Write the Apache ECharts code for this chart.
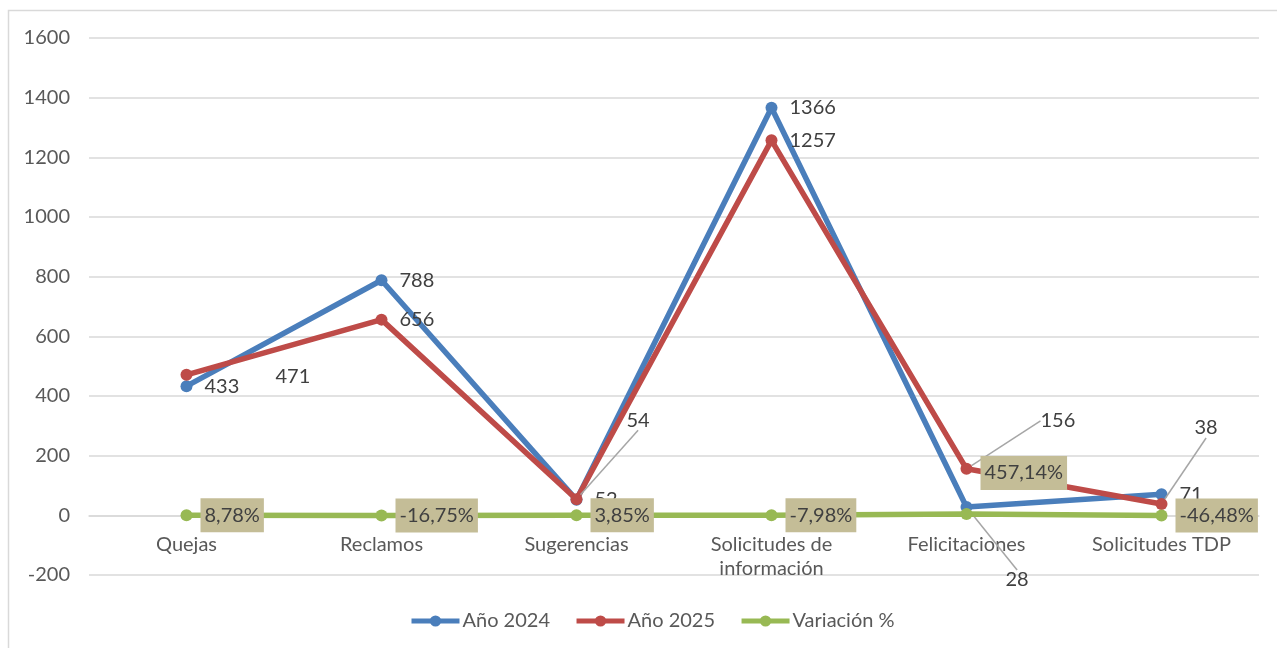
<!DOCTYPE html>
<html>
<head>
<meta charset="utf-8">
<script src="https://cdn.jsdelivr.net/npm/echarts@6/dist/echarts.min.js"></script>
<style>
  html, body { margin: 0; padding: 0; background: #fff; }
  #chart { width: 1277px; height: 648px; }
</style>
</head>
<body>
<div id="chart"></div>
<script>
// Categories and series
const categories = ['Quejas', 'Reclamos', 'Sugerencias', 'Solicitudes de\ninformación', 'Felicitaciones', 'Solicitudes TDP'];
const year2024 = [433, 788, 52, 1366, 28, 71];
const year2025 = [471, 656, 54, 1257, 156, 38];
// Variation stored as a fraction, shown as a percentage
const variation = [0.0878, -0.1675, 0.0385, -0.0798, 4.5714, -0.4648];
const seriesNames = ['Año 2024', 'Año 2025', 'Variación %'];

const FONT = 'Lato, "Open Sans", sans-serif';
const TXT = '#404040';
const FS = 20;

// Value axis range
const Y_MIN = -200, Y_MAX = 1600, Y_STEP = 200;

// Per-point label shifts (dx, dy) for labels pulled away from their point
const shift2024 = { 4: [21, 73] };
const shift2025 = { 0: [71, 2], 2: [32, -79], 4: [56, -48], 5: [15, -76] };
const leader2024 = [4];
const leader2025 = [2, 4, 5];

function pctText(v) {
  return (v * 100).toFixed(2).replace('.', ',') + '%';
}

const chart = echarts.init(document.getElementById('chart'), null, { renderer: 'canvas' });

const GRID = { left: 89, right: 18, top: 38, bottom: 73 };
const plotH = 648 - GRID.top - GRID.bottom;
// Category axis sits on the zero line of the value axis
const zeroOffset = -(0 - Y_MIN) / (Y_MAX - Y_MIN) * plotH;

function valueLabel() {
  return {
    show: true,
    position: 'right',
    distance: 12,
    color: TXT,
    fontFamily: FONT,
    fontSize: FS
  };
}

function layoutFor(shifts) {
  return function (params) {
    const s = shifts[params.dataIndex];
    if (!s) return {};
    return { dx: s[0], dy: s[1] };
  };
}

function withLeaders(values, leaders) {
  return values.map((v, i) => ({ value: v, labelLine: { show: leaders.indexOf(i) >= 0 } }));
}

const option = {
  animation: false,
  backgroundColor: '#fff',
  textStyle: { fontFamily: FONT },
  graphic: [
    {
      type: 'polyline',
      shape: { points: [[8.5, 660], [8.5, 10.5], [1290, 10.5]] },
      style: { stroke: '#d9d9d9', lineWidth: 1.5, fill: null },
      silent: true
    }
  ],
  grid: GRID,
  legend: {
    data: seriesNames,
    bottom: 12,
    left: 404,
    itemWidth: 48,
    itemHeight: 14,
    itemGap: 24,
    lineStyle: { width: 5 },
    textStyle: { color: '#595959', fontFamily: FONT, fontSize: FS, padding: [0, 0, 0, -2] }
  },
  xAxis: {
    type: 'category',
    data: categories,
    boundaryGap: true,
    offset: zeroOffset,
    axisLine: { show: true, onZero: false, lineStyle: { color: '#d9d9d9', width: 1.5 } },
    axisTick: { show: false },
    axisLabel: {
      color: '#595959',
      fontFamily: FONT,
      fontSize: FS,
      lineHeight: 24,
      margin: 17,
      interval: 0
    },
    splitLine: { show: false }
  },
  yAxis: {
    type: 'value',
    min: Y_MIN,
    max: Y_MAX,
    interval: Y_STEP,
    axisLine: { show: false },
    axisTick: { show: false },
    axisLabel: { color: '#595959', fontFamily: FONT, fontSize: FS, margin: 19, formatter: v => String(v) },
    splitLine: { lineStyle: { color: '#d9d9d9', width: 1.5 } }
  },
  series: [
    {
      name: seriesNames[0],
      type: 'line',
      data: withLeaders(year2024, leader2024),
      symbol: 'circle',
      symbolSize: 12,
      color: '#4a7ebb',
      lineStyle: { width: 5.5, color: '#4a7ebb' },
      itemStyle: { color: '#4a7ebb' },
      label: valueLabel(),
      labelLine: { show: true, lineStyle: { color: '#a6a6a6', width: 1.5 }, length2: 0 },
      labelLayout: layoutFor(shift2024),
      z: 2
    },
    {
      name: seriesNames[1],
      type: 'line',
      data: withLeaders(year2025, leader2025),
      symbol: 'circle',
      symbolSize: 12,
      color: '#be4b48',
      lineStyle: { width: 5.5, color: '#be4b48' },
      itemStyle: { color: '#be4b48' },
      label: valueLabel(),
      labelLine: { show: true, lineStyle: { color: '#a6a6a6', width: 1.5 }, length2: 0 },
      labelLayout: layoutFor(shift2025),
      z: 3
    },
    {
      name: seriesNames[2],
      type: 'line',
      data: variation.map((v, i) => {
        const d = { value: v };
        if (i === 4) d.label = { offset: [0, -41] };
        return d;
      }),
      symbol: 'circle',
      symbolSize: 12,
      color: '#98b954',
      lineStyle: { width: 5.5, color: '#98b954' },
      itemStyle: { color: '#98b954' },
      label: {
        show: true,
        position: 'right',
        distance: 8,
        color: TXT,
        fontFamily: FONT,
        fontSize: FS,
        lineHeight: 24,
        backgroundColor: '#c4bd97',
        padding: [5, 4, 5, 4],
        formatter: p => pctText(p.value)
      },
      z: 4
    }
  ]
};

chart.setOption(option);
</script>
</body>
</html>
